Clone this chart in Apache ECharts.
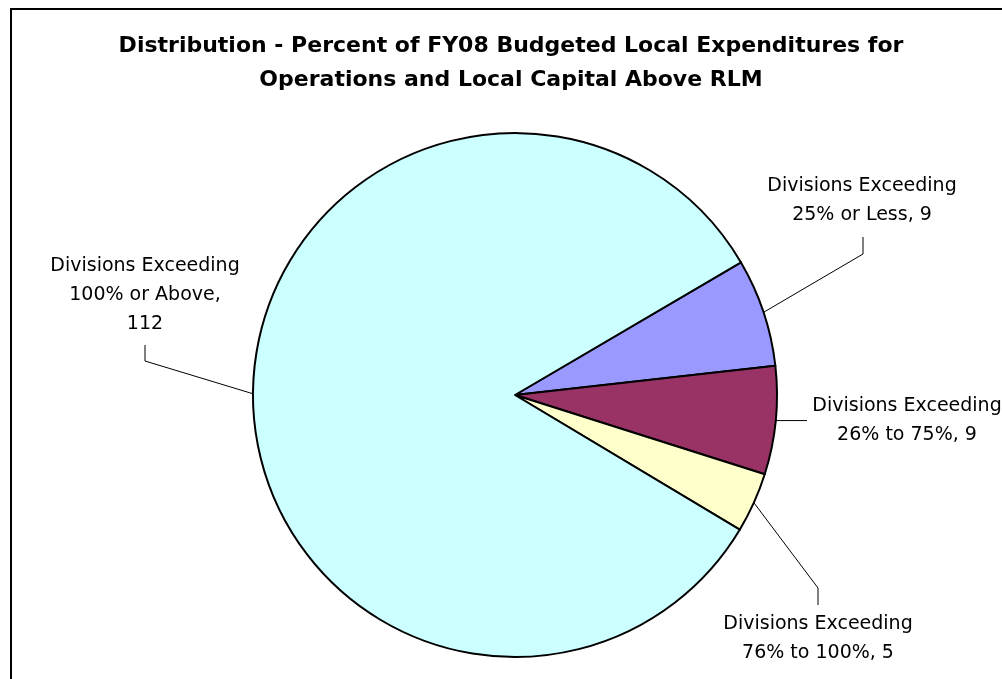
<!DOCTYPE html>
<html>
<head>
<meta charset="utf-8">
<script src="https://cdn.jsdelivr.net/npm/echarts@6/dist/echarts.min.js"></script>
<style>
html,body{margin:0;padding:0;background:#fff;}
#chart{width:1002px;height:679px;}
</style>
</head>
<body>
<div id="chart"></div>
<script>
// ---- data ----
const titleLines = ['Distribution - Percent of FY08 Budgeted Local Expenditures for', 'Operations and Local Capital Above RLM'];
const categories = ['Divisions Exceeding\n25% or Less', 'Divisions Exceeding\n26% to 75%', 'Divisions Exceeding\n76% to 100%', 'Divisions Exceeding\n100% or Above'];
const values = [9, 9, 5, 112];
const valueSeparators = [', ', ', ', ', ', ',\n'];
const colors = ['#9999FF', '#993366', '#FFFFCC', '#CCFFFF'];

// ---- layout (label placement & leader elbows) ----
const labelLayouts = [
  {x: 862, y: 201, elbow: [863, 254], end: [863, 237]},
  {x: 907, y: 421, elbow: [807, null], end: [807, null]},
  {x: 818, y: 639, elbow: [818, 588], end: [818, 605]},
  {x: 145, y: 295, elbow: [145, 361], end: [145, 345]}
];

const chart = echarts.init(document.getElementById('chart'), null, {renderer: 'canvas'});
const FONT = 'DejaVu Sans';

chart.setOption({
  backgroundColor: '#ffffff',
  animation: false,
  graphic: [
    {type: 'rect', shape: {x: 11, y: 9, width: 1100, height: 800}, style: {fill: 'none', stroke: '#000', lineWidth: 2}, z: 100},
    {type: 'text', x: 511, y: 63, style: {text: titleLines.join('\n'), font: 'bold 22px "' + FONT + '"', fill: '#000', align: 'center', verticalAlign: 'middle', lineHeight: 34}}
  ],
  series: [{
    type: 'pie',
    center: [515, 395],
    radius: 262,
    startAngle: 30.4,
    clockwise: true,
    avoidLabelOverlap: false,
    itemStyle: {borderColor: '#000', borderWidth: 2},
    emphasis: {disabled: true},
    label: {
      show: true,
      position: 'outside',
      fontFamily: FONT,
      fontSize: 19,
      lineHeight: 29,
      color: '#000',
      align: 'center',
      formatter: p => p.name + valueSeparators[p.dataIndex] + p.value
    },
    labelLine: {show: true, length: 10, length2: 10, lineStyle: {color: '#000', width: 1}},
    labelLayout: function (params) {
      const L = labelLayouts[params.dataIndex];
      const start = params.labelLinePoints ? params.labelLinePoints[0] : [L.elbow[0], L.y];
      const elbow = [L.elbow[0], L.elbow[1] == null ? start[1] : L.elbow[1]];
      const end = [L.end[0], L.end[1] == null ? start[1] : L.end[1]];
      return {
        x: L.x, y: L.y, align: 'center', verticalAlign: 'middle',
        labelLinePoints: [start, elbow, end]
      };
    },
    data: categories.map((c, i) => ({name: c, value: values[i], itemStyle: {color: colors[i]}}))
  }]
});
</script>
</body>
</html>
